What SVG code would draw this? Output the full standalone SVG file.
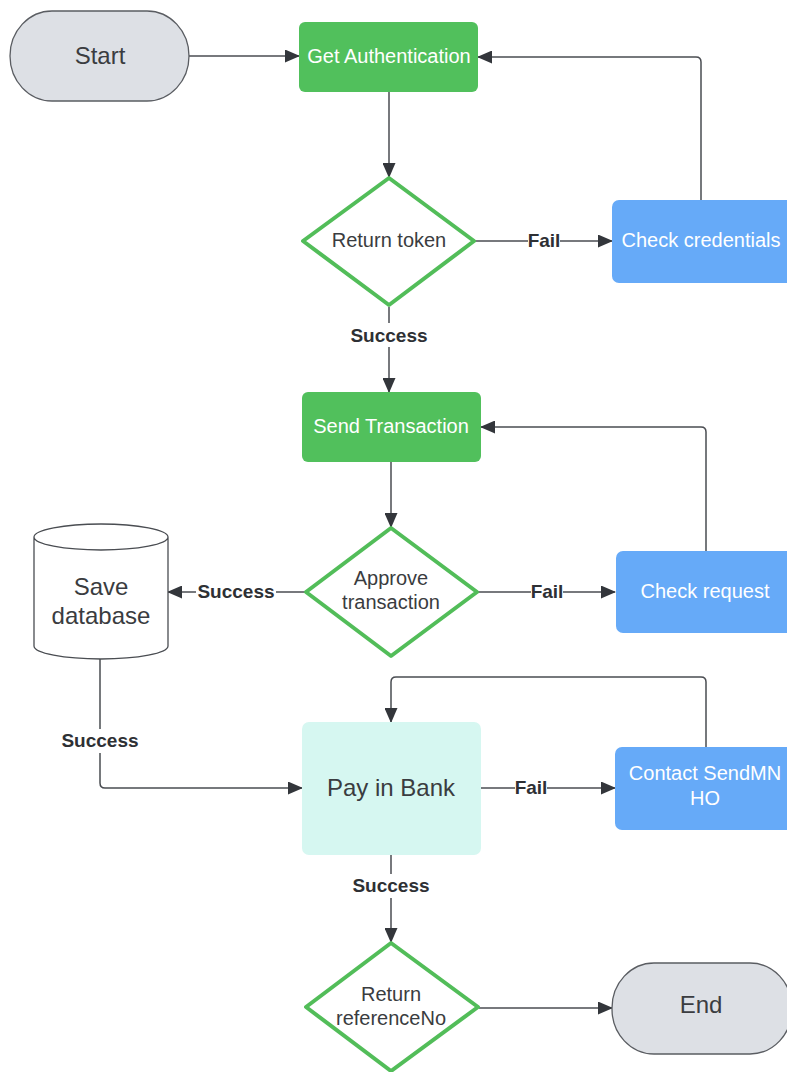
<svg xmlns="http://www.w3.org/2000/svg" width="787" height="1072" viewBox="0 0 787 1072">
<defs>
<marker id="arr" markerUnits="userSpaceOnUse" markerWidth="15" markerHeight="13" refX="14" refY="6.5" orient="auto">
<path d="M0,0 L15,6.5 L0,13 Z" fill="#33363b"/>
</marker>
<style>
.conn{fill:none;stroke:#4a4d52;stroke-width:1.5}
.term{fill:#dde0e5;stroke:#5a5d62;stroke-width:1.3}
.proc{fill:#51c05c}
.blue{fill:#66aaf8}
.dia{fill:#ffffff;stroke:#52bd59;stroke-width:4;stroke-linejoin:round}
.t{font-family:"Liberation Sans",Arial,sans-serif;text-anchor:middle}
.w{fill:#ffffff;font-size:20px}
.d{fill:#3a3c40;font-size:20px}
.big{fill:#3a3c40;font-size:24px}
.lab{fill:#2e3034;font-size:19px;font-weight:bold}
.bg{fill:#ffffff}
</style>
</defs>
<rect width="787" height="1072" fill="#ffffff"/>
<g id="connectors">
<path class="conn" d="M189 56 H299" marker-end="url(#arr)"/>
<path class="conn" d="M389 92 V177" marker-end="url(#arr)"/>
<path class="conn" d="M475 241 H612" marker-end="url(#arr)"/>
<path class="conn" d="M701 200 V62 Q701 57 696 57 H478" marker-end="url(#arr)"/>
<path class="conn" d="M389 307 V392" marker-end="url(#arr)"/>
<path class="conn" d="M391 462 V527" marker-end="url(#arr)"/>
<path class="conn" d="M478 592 H615" marker-end="url(#arr)"/>
<path class="conn" d="M706 551 V432 Q706 427 701 427 H481" marker-end="url(#arr)"/>
<path class="conn" d="M305 592 H168" marker-end="url(#arr)"/>
<path class="conn" d="M100 659 V783 Q100 788 105 788 H302" marker-end="url(#arr)"/>
<path class="conn" d="M481 788 H615" marker-end="url(#arr)"/>
<path class="conn" d="M706 747 V682 Q706 677 701 677 H396 Q391 677 391 682 V722" marker-end="url(#arr)"/>
<path class="conn" d="M391 855 V942" marker-end="url(#arr)"/>
<path class="conn" d="M479 1008 H612" marker-end="url(#arr)"/>
<rect class="bg" x="528" y="230" width="32" height="20"/>
<text class="t lab" x="544" y="247">Fail</text>
<rect class="bg" x="348" y="323" width="82" height="24"/>
<text class="t lab" x="389" y="342">Success</text>
<rect class="bg" x="531" y="581" width="32" height="20"/>
<text class="t lab" x="547" y="598">Fail</text>
<rect class="bg" x="196" y="581" width="80" height="20"/>
<text class="t lab" x="236" y="598">Success</text>
<rect class="bg" x="58" y="729" width="84" height="24"/>
<text class="t lab" x="100" y="747">Success</text>
<rect class="bg" x="515" y="777" width="32" height="20"/>
<text class="t lab" x="531" y="794">Fail</text>
<rect class="bg" x="350" y="874" width="82" height="24"/>
<text class="t lab" x="391" y="892">Success</text>
</g>
<g id="start">
<rect class="term" x="10" y="11" width="179" height="90" rx="42" ry="45"/>
<text class="t big" x="100" y="64">Start</text>
</g>
<g id="get-authentication">
<rect class="proc" x="299" y="22" width="179" height="70" rx="6"/>
<text class="t w" x="389" y="63">Get Authentication</text>
</g>
<g id="return-token">
<path class="dia" d="M389 178 L474 241 L389 305 L303 241 Z"/>
<text class="t d" x="389" y="247">Return token</text>
</g>
<g id="check-credentials">
<rect class="blue" x="612" y="200" width="185" height="83" rx="7"/>
<text class="t w" x="701" y="247">Check credentials</text>
</g>
<g id="send-transaction">
<rect class="proc" x="302" y="392" width="179" height="70" rx="6"/>
<text class="t w" x="391" y="433">Send Transaction</text>
</g>
<g id="approve-transaction">
<path class="dia" d="M391 528 L477 592 L391 656 L306 592 Z"/>
<text class="t d" x="391" y="585">Approve</text>
<text class="t d" x="391" y="609">transaction</text>
</g>
<g id="check-request">
<rect class="blue" x="616" y="551" width="185" height="82" rx="7"/>
<text class="t w" x="705" y="598">Check request</text>
</g>
<g id="save-database">
<path d="M34 537 V646 A67 13 0 0 0 168 646 V537 A67 13 0 0 0 34 537 A67 13 0 0 0 168 537" fill="#ffffff" stroke="#4a4d52" stroke-width="1.3"/>
<text class="t big" x="101" y="595">Save</text>
<text class="t big" x="101" y="624">database</text>
</g>
<g id="pay-in-bank">
<rect x="302" y="722" width="179" height="133" rx="7" fill="#d6f7f1"/>
<text class="t big" x="391" y="796">Pay in Bank</text>
</g>
<g id="contact-sendmn-ho">
<rect class="blue" x="615" y="747" width="185" height="83" rx="7"/>
<text class="t w" x="705" y="780">Contact SendMN</text>
<text class="t w" x="705" y="805">HO</text>
</g>
<g id="return-referenceno">
<path class="dia" d="M391 943 L478 1007 L391 1071 L306 1007 Z"/>
<text class="t d" x="391" y="1001">Return</text>
<text class="t d" x="391" y="1025">referenceNo</text>
</g>
<g id="end">
<rect class="term" x="612" y="963" width="180" height="91" rx="42" ry="45"/>
<text class="t big" x="701" y="1013">End</text>
</g>
</svg>
